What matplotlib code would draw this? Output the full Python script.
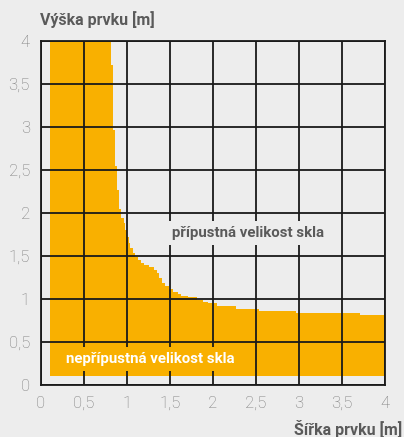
import matplotlib.pyplot as plt

# stepped upper boundary of the forbidden region (x start of step, height)
edge_x = [0.10, 0.81, 0.835, 0.86, 0.885, 0.91, 0.935, 0.96, 0.98, 1.00,
          1.02, 1.04, 1.065, 1.095, 1.125, 1.165, 1.20, 1.25, 1.31, 1.345,
          1.375, 1.405, 1.445, 1.49, 1.54, 1.59, 1.63, 1.71, 1.81, 1.88,
          1.94, 2.05, 2.27, 2.54, 2.97, 3.71, 4.00]
edge_y = [4.00, 3.72, 2.96, 2.55, 2.27, 2.05, 1.94, 1.88, 1.80, 1.72,
          1.65, 1.59, 1.54, 1.49, 1.45, 1.42, 1.40, 1.375, 1.34, 1.30,
          1.24, 1.19, 1.15, 1.12, 1.085, 1.06, 1.04, 1.02, 0.99, 0.97,
          0.95, 0.92, 0.88, 0.86, 0.84, 0.81, 0.81]
base_y = 0.10

ticks = [0, 0.5, 1, 1.5, 2, 2.5, 3, 3.5, 4]
tick_labels = ['0', '0,5', '1', '1,5', '2', '2,5', '3', '3,5', '4']

bg = '#ededed'
orange = '#f9b000'
gridc = '#1a1a1a'
txt = '#5a5a5a'

plt.rcParams['font.family'] = ['Roboto', 'DejaVu Sans']

fig = plt.figure(figsize=(4.04, 4.37), dpi=100, facecolor=bg)
ax = fig.add_axes([41/404, 1 - 385/437, 344/404, 344/437])
ax.set_facecolor(bg)

ax.fill_between(edge_x, base_y, edge_y, step='post', color=orange, lw=0, zorder=1)

ax.set_xlim(0, 4)
ax.set_ylim(0, 4)
ax.set_xticks(ticks)
ax.set_xticklabels(tick_labels)
ax.set_yticks(ticks)
ax.set_yticklabels(tick_labels)
ax.tick_params(length=0, labelsize=12, labelcolor='#7a7a7a', pad=8)
for lab in ax.get_xticklabels() + ax.get_yticklabels():
    lab.set_fontweight('light')
ax.set_axisbelow(False)
ax.grid(True, color=gridc, lw=1.3)
for s in ax.spines.values():
    s.set_color(gridc)
    s.set_linewidth(1.3)

ax.text(2.41, 1.77, 'přípustná velikost skla', ha='center', va='center',
        fontsize=10.8, fontweight='bold', color=txt, zorder=5,
        bbox=dict(boxstyle='square,pad=0.35', fc=bg, ec='none'))
ax.text(1.27, 0.30, 'nepřípustná velikost skla', ha='center', va='center',
        fontsize=10.8, fontweight='bold', color='white', zorder=5,
        bbox=dict(boxstyle='square,pad=0.35', fc=orange, ec='none'))

fig.text(40/404, 1 - 20/437, 'Výška prvku [m]', ha='left', va='center',
         fontsize=11.5, fontweight='bold', color=txt)
fig.text(402/404, 1 - 429/437, 'Šířka prvku [m]', ha='right', va='center',
         fontsize=11.5, fontweight='bold', color=txt)

fig.savefig('out.png', dpi=100, facecolor=bg)
